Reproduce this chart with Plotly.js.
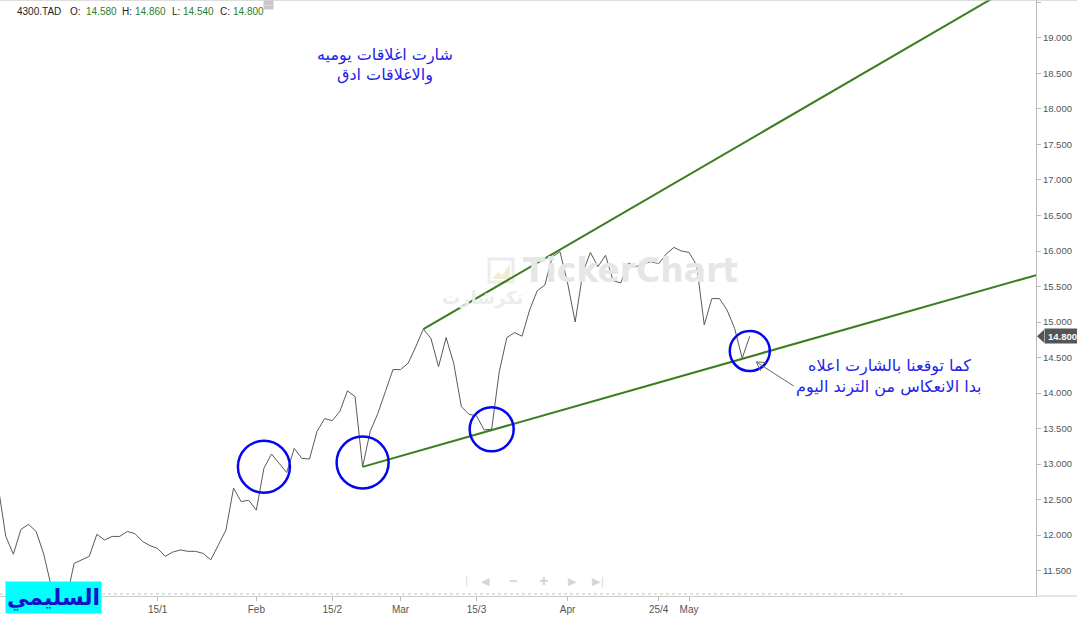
<!DOCTYPE html>
<html>
<head>
<meta charset="utf-8">
<script src="https://cdn.plot.ly/plotly-3.0.1.min.js"></script>
<style>html,body{margin:0;padding:0;background:#fff;}#chart{width:1077px;height:617px;}</style>
</head>
<body>
<div id="chart"></div>
<script>
// Daily closes, one value per trading session (index = session number)
const closes = [
  12.68, 11.98, 11.73, 12.08, 12.15, 12.05, 11.73, 11.27, 11.05, 11.10,
  11.60, 11.65, 11.70, 12.01, 11.93, 11.98, 11.98, 12.05, 12.02, 11.91,
  11.85, 11.81, 11.70, 11.76, 11.79, 11.77, 11.77, 11.74, 11.65, 11.86,
  12.07, 12.66, 12.47, 12.49, 12.35, 12.94, 13.14, 13.01, 12.88, 13.22,
  13.08, 13.07, 13.46, 13.64, 13.61, 13.74, 14.03, 13.95, 12.96, 13.46,
  13.71, 14.02, 14.33, 14.33, 14.42, 14.65, 14.90, 14.77, 14.37, 14.78,
  14.42, 13.81, 13.70, 13.68, 13.48, 13.49, 14.30, 14.78, 14.85, 14.80,
  15.17, 15.44, 15.52, 15.92, 15.99, 15.55, 15.00, 15.69, 15.98, 15.78,
  15.94, 15.58, 15.55, 15.83, 15.78, 15.82, 15.85, 15.82, 15.96, 16.05,
  16.00, 15.98, 15.80, 14.96, 15.33, 15.33, 15.17, 14.91, 14.49, 14.80
];
const sessions = closes.map((_, i) => i);

// Date tick labels on the session axis
const tickIdx  = [21, 34, 44, 53, 63, 75, 87, 91];
const tickText = ['15/1', 'Feb', '15/2', 'Mar', '15/3', 'Apr', '25/4', 'May'];

// Trend lines (session index, price)
const upperTrendX = [56, 140];
const upperTrendY = [14.90, 20.12];
const lowerTrendX = [48, 140];
const lowerTrendY = [12.96, 15.76];

// Highlighted sessions (circled)
const circleIdx = [35, 48, 65, 99];
const circleVal = [12.96, 13.02, 13.49, 14.59];
const circleR   = [26, 26, 22, 20];

// Header values
const symbol = '4300.TAD';
const ohlcLabels = ['O:', 'H:', 'L:', 'C:'];
const ohlcValues = ['14.580', '14.860', '14.540', '14.800'];
const lastClose = 14.80;

// Texts
const noteTop = ['شارت اغلاقات يوميه', 'والاغلاقات ادق'];
const noteRight = ['كما توقعنا بالشارت اعلاه', 'بدا الانعكاس من الترند اليوم'];
const signature = 'السليمي';

const W = 1036, H = 596;
const px = v => v / W;
const py = v => 1 - v / H;

const traces = [
  {x: sessions, y: closes, type: 'scatter', mode: 'lines',
   line: {color: '#5a5a5a', width: 1}, hoverinfo: 'skip'},
  {x: upperTrendX, y: upperTrendY, type: 'scatter', mode: 'lines',
   line: {color: '#3b7d1f', width: 2}, hoverinfo: 'skip'},
  {x: lowerTrendX, y: lowerTrendY, type: 'scatter', mode: 'lines',
   line: {color: '#3b7d1f', width: 2}, hoverinfo: 'skip'}
];

const shapes = [];
circleIdx.forEach((c, k) => {
  shapes.push({type: 'circle', xref: 'x', yref: 'y', xsizemode: 'pixel', ysizemode: 'pixel',
    xanchor: c, yanchor: circleVal[k], x0: -circleR[k], x1: circleR[k], y0: -circleR[k], y1: circleR[k],
    line: {color: '#0505f0', width: 2.5}});
});
// open arrowhead at the tip of the arrow pointing to last circle
const tipX = 99.85, tipY = 14.437;
shapes.push({type: 'path', xref: 'x', yref: 'y', xsizemode: 'pixel', ysizemode: 'pixel',
  xanchor: tipX, yanchor: tipY, path: 'M4.6,-8.9 L0,0 L10,-0.5', line: {color: '#666', width: 1}});
// price tag pointer
shapes.push({type: 'path', xref: 'paper', yref: 'y', xsizemode: 'pixel', ysizemode: 'pixel',
  xanchor: 1, yanchor: lastClose, path: 'M1,0 L8,6.5 L8,-6.5 Z', fillcolor: '#555', line: {width: 0}});
// frame lines
shapes.push({type: 'line', xref: 'paper', yref: 'paper', x0: 0, x1: 1077 / W, y0: 1, y1: 1,
  line: {color: '#bbb', width: 1}});
shapes.push({type: 'line', xref: 'paper', yref: 'paper', x0: 1, x1: 1077 / W, y0: 0, y1: 0,
  line: {color: '#ccc', width: 1}});
shapes.push({type: 'line', xref: 'paper', yref: 'paper', x0: 0, x1: px(905), y0: py(594), y1: py(594),
  line: {color: '#d8d8d8', width: 1.5, dash: 'dot'}});
// watermark logo box
shapes.push({type: 'rect', xref: 'paper', yref: 'paper', x0: px(489), x1: px(513), y0: py(282), y1: py(259),
  line: {color: '#ececec', width: 3}, fillcolor: 'rgba(0,0,0,0)', layer: 'below'});
shapes.push({type: 'path', xref: 'paper', yref: 'paper', layer: 'below',
  path: `M${px(492)},${py(279)} L${px(498)},${py(272)} L${px(502)},${py(275)} L${px(510)},${py(264)} L${px(510)},${py(279)} Z`,
  fillcolor: '#f3ecd2', line: {width: 0}});

const annotations = [];
// header
const hdrFont = {family: 'Liberation Sans, Arial', size: 10, color: '#222'};
annotations.push({xref: 'paper', yref: 'paper', x: px(15), y: py(11), xanchor: 'left', yanchor: 'middle',
  text: symbol, showarrow: false, font: hdrFont});
const lblX = [68, 120, 170, 218], valX = [84, 133, 181, 231];
ohlcLabels.forEach((l, k) => {
  annotations.push({xref: 'paper', yref: 'paper', x: px(lblX[k]), y: py(11), xanchor: 'left', yanchor: 'middle',
    text: l, showarrow: false, font: hdrFont});
  annotations.push({xref: 'paper', yref: 'paper', x: px(valX[k]), y: py(11), xanchor: 'left', yanchor: 'middle',
    text: ohlcValues[k], showarrow: false, font: {family: 'Liberation Sans, Arial', size: 10, color: '#2e7d2e'}});
});
annotations.push({xref: 'paper', yref: 'paper', x: px(263), y: py(0), xanchor: 'left', yanchor: 'top',
  text: '···', showarrow: false, bgcolor: '#c8c8c8', width: 9, height: 8, borderpad: 0,
  font: {family: 'Liberation Sans, Arial', size: 8, color: '#fff'}});
// blue notes
noteTop.forEach((t, k) => {
  annotations.push({xref: 'paper', yref: 'paper', x: px(385), y: py(55 + 20 * k), xanchor: 'center', yanchor: 'middle',
    text: t, showarrow: false, font: {family: 'DejaVu Sans, Noto Sans', size: 16, color: '#2424e8'}});
});
noteRight.forEach((t, k) => {
  annotations.push({xref: 'paper', yref: 'paper', x: px(889), y: py(366 + 21 * k), xanchor: 'center', yanchor: 'middle',
    text: t, showarrow: false, font: {family: 'DejaVu Sans, Noto Sans', size: 16, color: '#2424e8'}});
});
// arrow line
annotations.push({xref: 'x', yref: 'y', x: tipX, y: tipY, ax: 39, ay: 25, text: '', showarrow: true,
  arrowhead: 0, arrowwidth: 1, arrowcolor: '#666'});
// watermark
annotations.push({xref: 'paper', yref: 'paper', x: px(630), y: py(270), xanchor: 'center', yanchor: 'middle',
  text: '<b>TickerChart</b>', showarrow: false, font: {family: 'DejaVu Sans', size: 33, color: '#e6e6e6'}});
annotations.push({xref: 'paper', yref: 'paper', x: px(482), y: py(298), xanchor: 'center', yanchor: 'middle',
  text: '<b>تكرشارت</b>', showarrow: false, font: {family: 'DejaVu Sans', size: 18, color: '#ececec'}});
// navigator controls
const navGlyphs = ['|', '◀', '━', '✚', '▶', '▶|'];
const navX = [466, 485, 513, 543, 572, 598];
navGlyphs.forEach((g, k) => {
  annotations.push({xref: 'paper', yref: 'paper', x: px(navX[k]), y: py(581), xanchor: 'center', yanchor: 'middle',
    text: g, showarrow: false, font: {family: 'DejaVu Sans', size: g === '|' ? 10 : 11, color: '#d6d6d6'}});
});
// price tag
annotations.push({xref: 'paper', yref: 'y', x: 1, y: lastClose, xanchor: 'left', yanchor: 'middle', xshift: 8,
  text: '<b>' + lastClose.toFixed(3) + '</b>', showarrow: false, bgcolor: '#555', borderpad: 1, width: 33, height: 12,
  font: {family: 'Liberation Sans, Arial', size: 9.5, color: '#fff'}});
// signature box
annotations.push({xref: 'paper', yref: 'paper', x: px(5), y: py(581), xanchor: 'left', yanchor: 'top',
  text: '<b>' + signature + '</b>', showarrow: false, bgcolor: '#00ffff', width: 95, height: 31, borderpad: 0,
  font: {family: 'DejaVu Sans, Noto Sans', size: 22, color: '#1212c8'}});

const layout = {
  width: 1077, height: 617,
  margin: {l: 0, r: 41, t: 0, b: 21},
  paper_bgcolor: '#fff', plot_bgcolor: '#fff',
  showlegend: false,
  xaxis: {
    range: [0.237, 136.7], tickmode: 'array', tickvals: tickIdx, ticktext: tickText,
    showgrid: false, zeroline: false, showline: true, linecolor: '#ccc', linewidth: 1,
    ticks: 'outside', ticklen: 4, tickcolor: '#bbb',
    tickfont: {family: 'Liberation Sans, Arial', size: 10, color: '#555'}, fixedrange: true
  },
  yaxis: {
    side: 'right', range: [11.141, 19.535], dtick: 0.5, tick0: 11.5, tickformat: '.3f',
    showgrid: false, zeroline: false, showline: true, linecolor: '#bbb', linewidth: 1,
    ticks: 'outside', ticklen: 4, tickcolor: '#bbb',
    tickfont: {family: 'Liberation Sans, Arial', size: 9.5, color: '#555'}, fixedrange: true
  },
  shapes: shapes,
  annotations: annotations
};

Plotly.newPlot('chart', traces, layout, {displayModeBar: false, staticPlot: true});
</script>
</body>
</html>
